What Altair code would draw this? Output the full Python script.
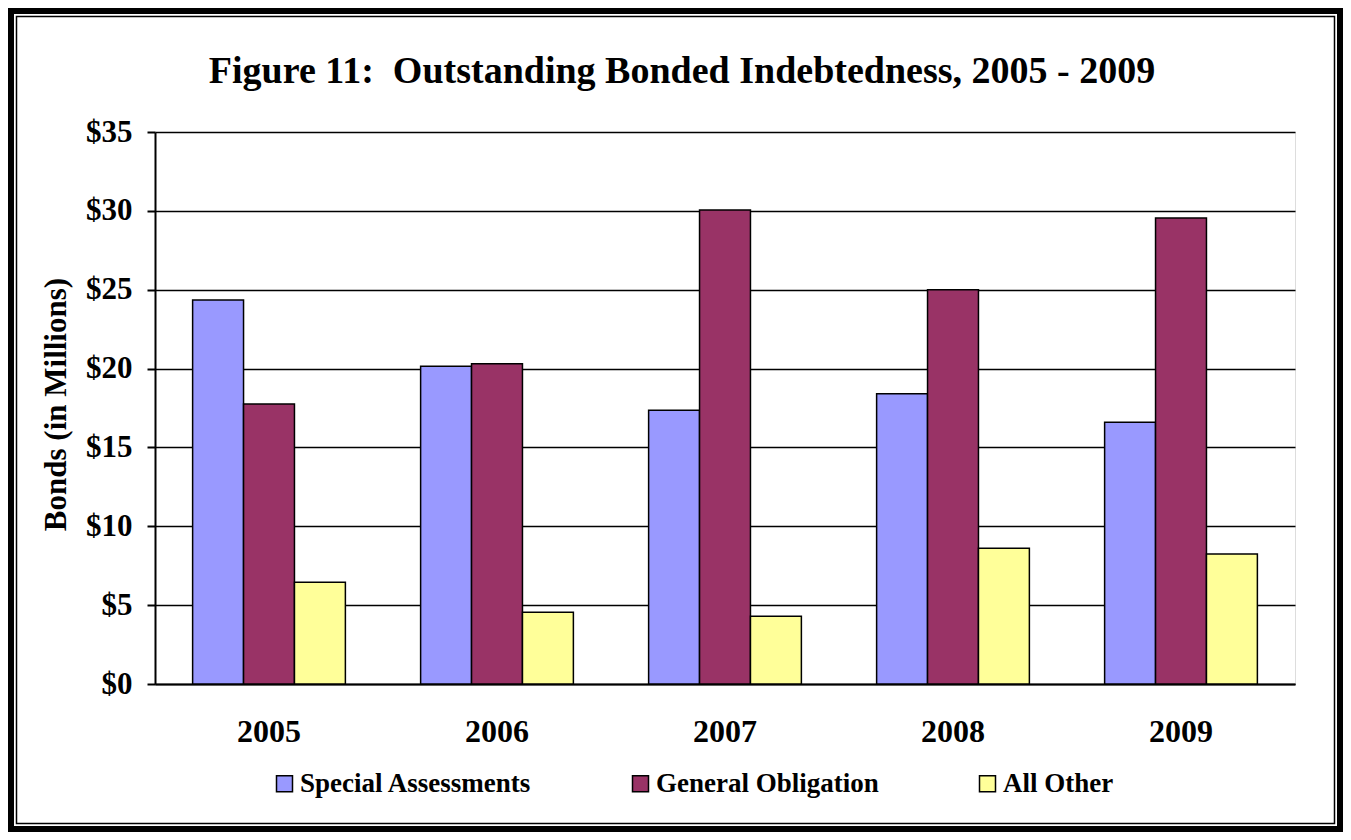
import altair as alt
import pandas as pd

years = ["2005", "2006", "2007", "2008", "2009"]
series_names = ["Special Assessments", "General Obligation", "All Other"]
special = [24.35, 20.15, 17.35, 18.4, 16.6]
general = [17.75, 20.3, 30.05, 25.0, 29.55]
other = [6.45, 4.55, 4.3, 8.6, 8.25]
colors = ["#9999FF", "#993366", "#FFFF99"]
y_ticks = [0, 5, 10, 15, 20, 25, 30, 35]

rows = []
for i, yr in enumerate(years):
    for name, vals in zip(series_names, [special, general, other]):
        rows.append({"year": yr, "series": name, "value": vals[i]})
df = pd.DataFrame(rows)

FONT = "Liberation Serif"
W, H = 1140, 552

bars = alt.Chart(df).mark_bar(stroke="black", strokeWidth=1.5).encode(
    x=alt.X(
        "year:N",
        sort=years,
        scale=alt.Scale(paddingInner=0.33, paddingOuter=0.165),
        axis=alt.Axis(
            title=None, labelAngle=0, ticks=False, grid=False,
            labelFont=FONT, labelFontSize=32, labelFontWeight="bold",
            labelColor="black", labelPadding=32,
            domainColor="black", domainWidth=2,
        ),
    ),
    xOffset=alt.XOffset(
        "series:N", sort=series_names,
        scale=alt.Scale(paddingInner=0, paddingOuter=0),
    ),
    y=alt.Y(
        "value:Q",
        scale=alt.Scale(domain=[0, 35], nice=False),
        axis=alt.Axis(
            values=y_ticks,
            labelExpr="'$' + datum.value",
            title="Bonds (in Millions)",
            titleFont=FONT, titleFontSize=31, titleFontWeight="bold",
            titleColor="black", titleAngle=-90,
            titleX=-90, titleY=272, titleAlign="center",
            titleBaseline="alphabetic",
            labelFont=FONT, labelFontSize=31, labelFontWeight="bold",
            labelColor="black", labelPadding=15,
            tickSize=8, tickColor="black", tickWidth=2,
            domainColor="black", domainWidth=2,
            grid=True, gridColor="black", gridWidth=1.6,
        ),
    ),
    color=alt.Color(
        "series:N",
        sort=series_names,
        scale=alt.Scale(domain=series_names, range=colors),
        legend=alt.Legend(
            title=None, orient="none", legendX=116, legendY=638,
            direction="horizontal", columns=3, columnPadding=95,
            symbolType="square", symbolSize=256,
            symbolStrokeColor="black", symbolStrokeWidth=1.5,
            labelFont=FONT, labelFontSize=27, labelFontWeight="bold",
            labelColor="black", labelOffset=2, labelLimit=400,
        ),
    ),
)

frame_data = alt.Data(values=[{}])
outer = alt.Chart(frame_data).mark_rect(
    fill="transparent", stroke="black", strokeWidth=6
).encode(
    x=alt.value(-144), x2=alt.value(1185),
    y=alt.value(-121), y2=alt.value(697),
)
inner = alt.Chart(frame_data).mark_rect(
    fill="transparent", stroke="black", strokeWidth=1.5
).encode(
    x=alt.value(-138.5), x2=alt.value(1179.5),
    y=alt.value(-115.5), y2=alt.value(691.5),
)

chart = alt.layer(bars, outer, inner).properties(
    width=W, height=H,
    title=alt.Title(
        "Figure 11:\u00a0 Outstanding Bonded Indebtedness, 2005 - 2009",
        font=FONT, fontSize=38, fontWeight="bold", color="black",
        anchor="middle", dx=-43, dy=113, offset=0, baseline="alphabetic",
    ),
    autosize=alt.AutoSizeParams(type="none"),
    padding={"left": 147, "top": 124, "right": 48, "bottom": 148},
).configure_view(
    stroke="black", strokeWidth=2
).configure(background="white")

chart.save("out.html", embed_options={"renderer": "svg", "actions": False})
